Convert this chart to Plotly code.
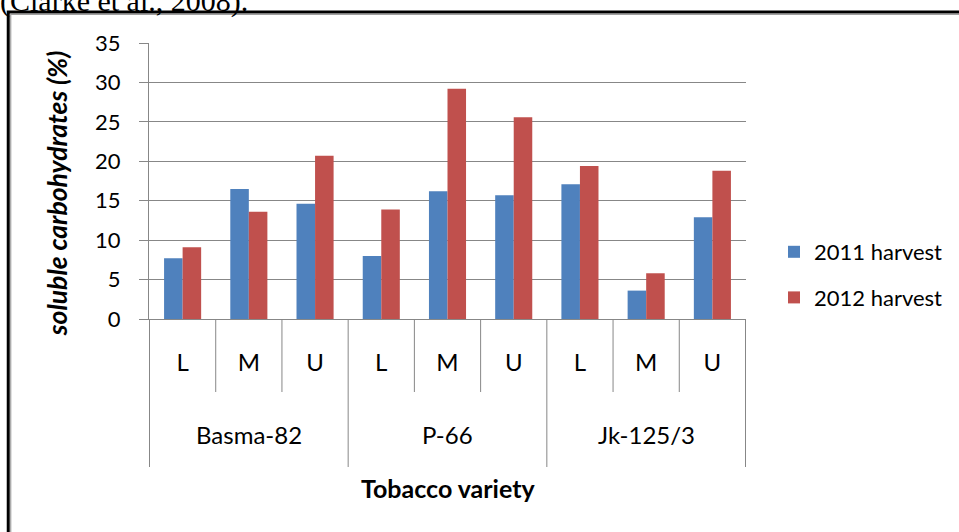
import plotly.graph_objects as go

varieties = ["Basma-82", "P-66", "Jk-125/3"]
levels = ["L", "M", "U"]
harvest_2011 = [7.7, 16.5, 14.6, 8.0, 16.2, 15.7, 17.1, 3.6, 12.9]
harvest_2012 = [9.1, 13.6, 20.7, 13.9, 29.2, 25.6, 19.4, 5.8, 18.8]
series_names = ["2011 harvest", "2012 harvest"]
y_ticks = [0, 5, 10, 15, 20, 25, 30, 35]

cats = [f"{v}|{l}" for v in varieties for l in levels]
cat_text = [l for v in varieties for l in levels]

BLUE = "#4F81BD"
RED = "#C0504D"
GRID = "#878787"
FONT = "Lato"

fig = go.Figure()
fig.add_trace(go.Bar(x=cats, y=harvest_2011, name=series_names[0], marker_color=BLUE,
                     marker_line_width=0, legendgroup="a"))
fig.add_trace(go.Bar(x=cats, y=harvest_2012, name=series_names[1], marker_color=RED,
                     marker_line_width=0, legendgroup="b"))

# plot area: x 149..747, y 43..319 px
W, H = 959, 532
L, R, T, B = 149, 959 - 747, 43, 532 - 319
pw, ph = W - L - R, H - T - B

def px_x(p):
    return (p - L) / pw

def px_y(p):
    return (H - B - p) / ph

shapes = []
n = len(cats)
for i in range(n + 1):
    is_group = (i % len(levels) == 0)
    shapes.append(dict(type="line", xref="x", yref="paper", x0=i - 0.5, x1=i - 0.5,
                       y0=0, y1=px_y(467 if is_group else 392),
                       line=dict(color=GRID, width=1)))

# page frame
shapes.append(dict(type="rect", xref="paper", yref="paper", x0=px_x(8), x1=3, y0=-3, y1=px_y(12),
                   line=dict(color="black", width=3), fillcolor="rgba(0,0,0,0)", layer="above"))
shapes.append(dict(type="rect", xref="paper", yref="paper", x0=px_x(10.5), x1=3, y0=-3, y1=px_y(14.5),
                   line=dict(color="#a0a0a0", width=1.2), fillcolor="rgba(0,0,0,0)", layer="above"))

annotations = []
for gi, v in enumerate(varieties):
    annotations.append(dict(x=cats[gi * len(levels) + 1], y=px_y(434), xref="x", yref="paper",
                            text=v, showarrow=False, font=dict(family=FONT, size=24, color="black"),
                            xanchor="center", yanchor="middle"))
annotations.append(dict(x=px_x(448), y=px_y(488), xref="paper", yref="paper",
                        text="<b>Tobacco variety</b>", showarrow=False,
                        font=dict(family=FONT, size=25, color="black"),
                        xanchor="center", yanchor="middle"))
annotations.append(dict(x=px_x(57), y=px_y(194), xref="paper", yref="paper",
                        text="<b><i>soluble carbohydrates (%)</i></b>", showarrow=False, textangle=-90,
                        font=dict(family=FONT, size=26.5, color="black"),
                        xanchor="center", yanchor="middle"))
annotations.append(dict(x=px_x(-2), y=px_y(1), xref="paper", yref="paper",
                        text="(Clarke et al., 2008).", showarrow=False,
                        font=dict(family="Liberation Serif", size=30, color="black"),
                        xanchor="left", yanchor="middle"))

fig.update_layout(
    width=W, height=H,
    margin=dict(l=L, r=R, t=T, b=B),
    paper_bgcolor="white", plot_bgcolor="white",
    barmode="group", bargap=0.44, bargroupgap=0,
    shapes=shapes, annotations=annotations,
    showlegend=True,
    legend=dict(x=px_x(774), y=px_y(231), xanchor="left", yanchor="top",
                font=dict(family=FONT, size=22, color="black"),
                traceorder="grouped", tracegroupgap=14, itemwidth=30,
                bgcolor="rgba(0,0,0,0)"),
    xaxis=dict(type="category", categoryorder="array", categoryarray=cats,
               tickmode="array", tickvals=cats, ticktext=cat_text,
               ticks="", showline=True, linecolor=GRID, linewidth=1,
               showgrid=False, ticklabelstandoff=22,
               tickfont=dict(family=FONT, size=24, color="black")),
    yaxis=dict(range=[0, 35], tickvals=y_ticks, ticks="outside", ticklen=9, tickcolor=GRID,
               showline=True, linecolor=GRID, linewidth=1, showgrid=True, gridcolor=GRID,
               gridwidth=1, zeroline=False, ticklabelstandoff=14,
               tickfont=dict(family=FONT, size=22, color="black")),
)

fig.write_html("out.html", config={"displayModeBar": False},
               post_script="document.body.style.margin='0px';")
